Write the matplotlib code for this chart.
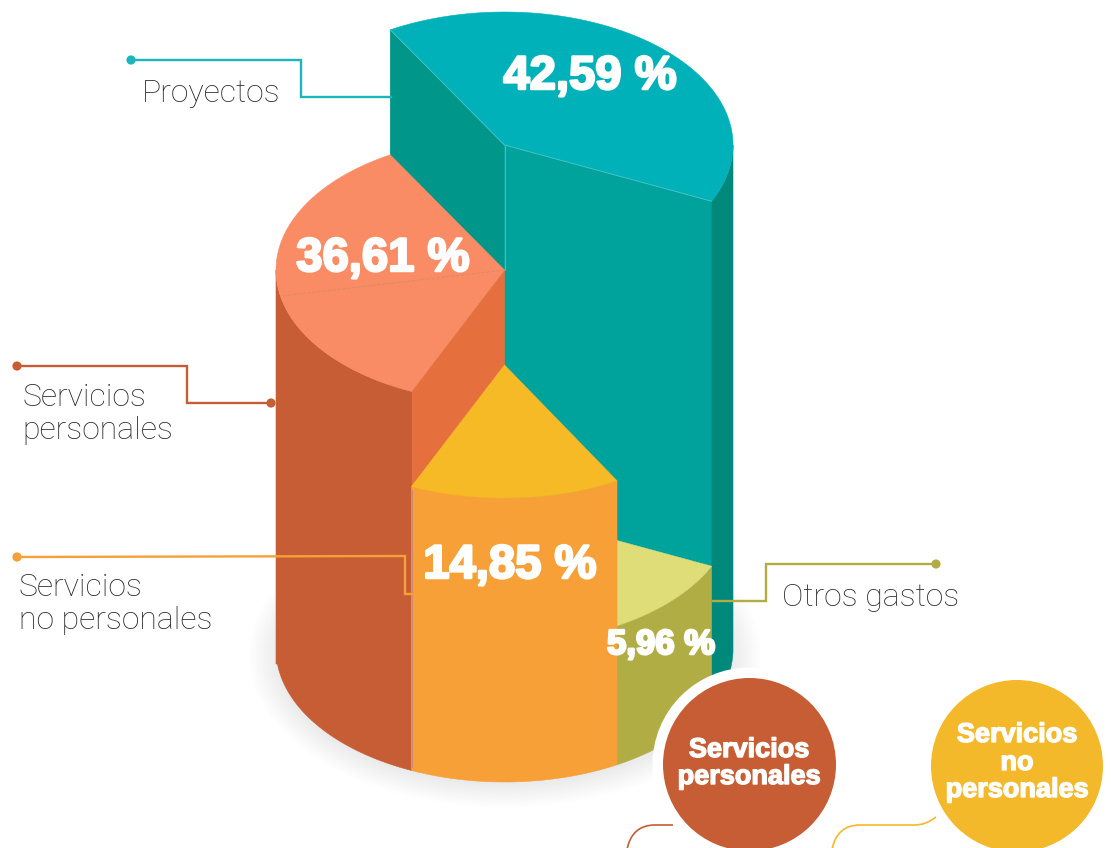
import numpy as np
import matplotlib
matplotlib.use('Agg')
import matplotlib.pyplot as plt
from matplotlib.patches import Polygon, Circle, Ellipse, PathPatch
from matplotlib.path import Path
import matplotlib.patheffects as pe

# values as printed on the picture, in drawing order (back to front)
categories = ['Proyectos', 'Otros gastos', 'Servicios personales', 'Servicios no personales']
shares = [42.59, 5.96, 36.61, 14.85]

# slice bounds (ellipse angle, degrees) and height of each block
slice_start = [240, 25, 114, 60.5]
slice_end = [385, 60.5, 240, 114]
slice_top = [145, 510, 270, 365]
base_y = 649

top_colors = ['#00b1b9', '#dfdd78', '#f98b65', '#f7ba27']
wall_colors = ['#00897b', '#b0ad44', '#c75d34', '#f6a037']
start_wall = ['#00968a', None, '#e6703d', None]
end_wall = ['#00a39b', None, None, None]

cx, a, b = 504.5, 228.5, 133


def arc(cy, t0, t1, n=80):
    t = np.radians(np.linspace(t0, t1, n))
    return np.column_stack([cx + a * np.cos(t), cy + b * np.sin(t)])


def fill(ax, pts, color):
    ax.add_patch(Polygon(pts, closed=True, fc=color, ec=color, lw=0.4))


fig = plt.figure(figsize=(11.11, 8.48), dpi=100)
ax = fig.add_axes([0, 0, 1, 1])
ax.set_xlim(0, 1111)
ax.set_ylim(848, 0)
ax.axis('off')

# soft shadow under the pie
for k in range(24):
    ax.add_patch(Ellipse((505, 655), 2 * (222 + 1.5 * k), 2 * (125 + 1.2 * k),
                         fc='#55505a', ec='none', alpha=0.005))

for i in range(len(shares)):
    t0, t1, top = slice_start[i], slice_end[i], slice_top[i]

    # flat faces of the wedge
    for t, c in zip([t0, t1], [start_wall[i], end_wall[i]]):
        if c:
            p = arc(top, t, t, 1)[0]
            fill(ax, [(cx, top), p, (p[0], p[1] + base_y - top), (cx, base_y)], c)

    # outer curved wall, only the part that faces us
    w0, w1 = t0, min(t1, 180)
    if i == 0:
        w0, w1 = 0, t1 - 360
    floor = arc(base_y, w1, w0)
    if i == 2:
        # left corner of the base is cut off in the original
        floor[:, 1] = np.maximum(floor[:, 1], base_y + 15)
    fill(ax, np.vstack([arc(top, w0, w1), floor]), wall_colors[i])

    # top face
    fill(ax, np.vstack([[(cx, top)], arc(top, t0, t1)]), top_colors[i])

# thin seams
p0 = arc(145, 240, 240, 1)[0]
p1 = arc(145, 25, 25, 1)[0]
ax.plot([p0[0], cx, p1[0]], [p0[1], 145, p1[1]], color='#4cc4c4', lw=0.6)
ax.plot([cx, cx], [145, 270], color='#52bdb4', lw=0.7)
ax.plot([cx, 282], [270, 296], color='#d98a6c', lw=0.6, ls=(0, (4, 2)))
ax.plot([411.5, 411.5], [490, 767], color='#d08a70', lw=0.7)

# leaders
leader_colors = ['#19b6bd', '#c65d34', '#f6a037', '#b0ad44']
leader_x = [[131, 301, 301, 391], [17, 187, 187, 271], [17, 405, 405, 412], [936, 766, 766, 713]]
leader_y = [[60, 60, 97, 97], [366, 366, 403, 403], [557, 556, 594, 594], [564, 564, 601, 601]]
for c, lx, ly in zip(leader_colors, leader_x, leader_y):
    ax.plot(lx, ly, color=c, lw=1.7, solid_joinstyle='miter')
    ax.add_patch(Circle((lx[0], ly[0]), 4.6, fc=c, ec='none'))
ax.add_patch(Circle((271, 403), 4.6, fc='#c65d34', ec='none'))

# circles at the lower right, cut by the edge of the picture
ax.add_patch(Circle((749.5, 764.5), 97, fc='white', ec='none'))
ax.add_patch(Circle((749.5, 764.5), 86.5, fc='#c65d34', ec='none'))
ax.add_patch(Circle((1017, 766), 86, fc='#f4b92a', ec='none'))

red_curve = Path([(627, 850), (630, 833), (640, 825), (655, 825), (673, 825)],
                 [Path.MOVETO, Path.CURVE4, Path.CURVE4, Path.CURVE4, Path.LINETO])
yellow_curve = Path([(832, 850), (835, 833), (845, 825), (860, 825), (915, 825), (926, 825), (936, 817)],
                    [Path.MOVETO, Path.CURVE4, Path.CURVE4, Path.CURVE4, Path.LINETO, Path.CURVE3, Path.CURVE3])
ax.add_patch(PathPatch(red_curve, fc='none', ec='#c65d34', lw=1.2))
ax.add_patch(PathPatch(yellow_curve, fc='none', ec='#f4b92a', lw=1.2))

# label text
light = dict(family=['Roboto', 'Liberation Sans'], weight='light', fontsize=23,
             color='#2d2a2b', va='baseline', ha='left')
ax.text(142, 102, 'Proyectos', **light)
ax.text(22, 406, 'Servicios', **light)
ax.text(22, 439, 'personales', **light)
ax.text(19, 596, 'Servicios', **light)
ax.text(19, 629, 'no personales', **light)
ax.text(782, 606, 'Otros gastos', **light)

heavy = dict(family=['Liberation Sans'], weight='bold', color='white',
             ha='center', va='baseline')
share_x = [590, 661, 383, 510]
share_y = [89, 654, 271, 578]
share_size = [34, 25, 34, 34]
for v, x, y, s in zip(shares, share_x, share_y, share_size):
    ax.text(x, y, f'{v:.2f}'.replace('.', ',') + ' %', fontsize=s, **heavy,
            path_effects=[pe.withStroke(linewidth=1.8, foreground='white')])

stroke = [pe.withStroke(linewidth=1.0, foreground='white')]
for line, y in zip(['Servicios', 'personales'], [757, 784]):
    ax.text(749, y, line, fontsize=19.5, path_effects=stroke, **heavy)
for line, y in zip(['Servicios', 'no', 'personales'], [742, 770, 797]):
    ax.text(1017, y, line, fontsize=19.5, path_effects=stroke, **heavy)

fig.savefig('out.png', dpi=100)
